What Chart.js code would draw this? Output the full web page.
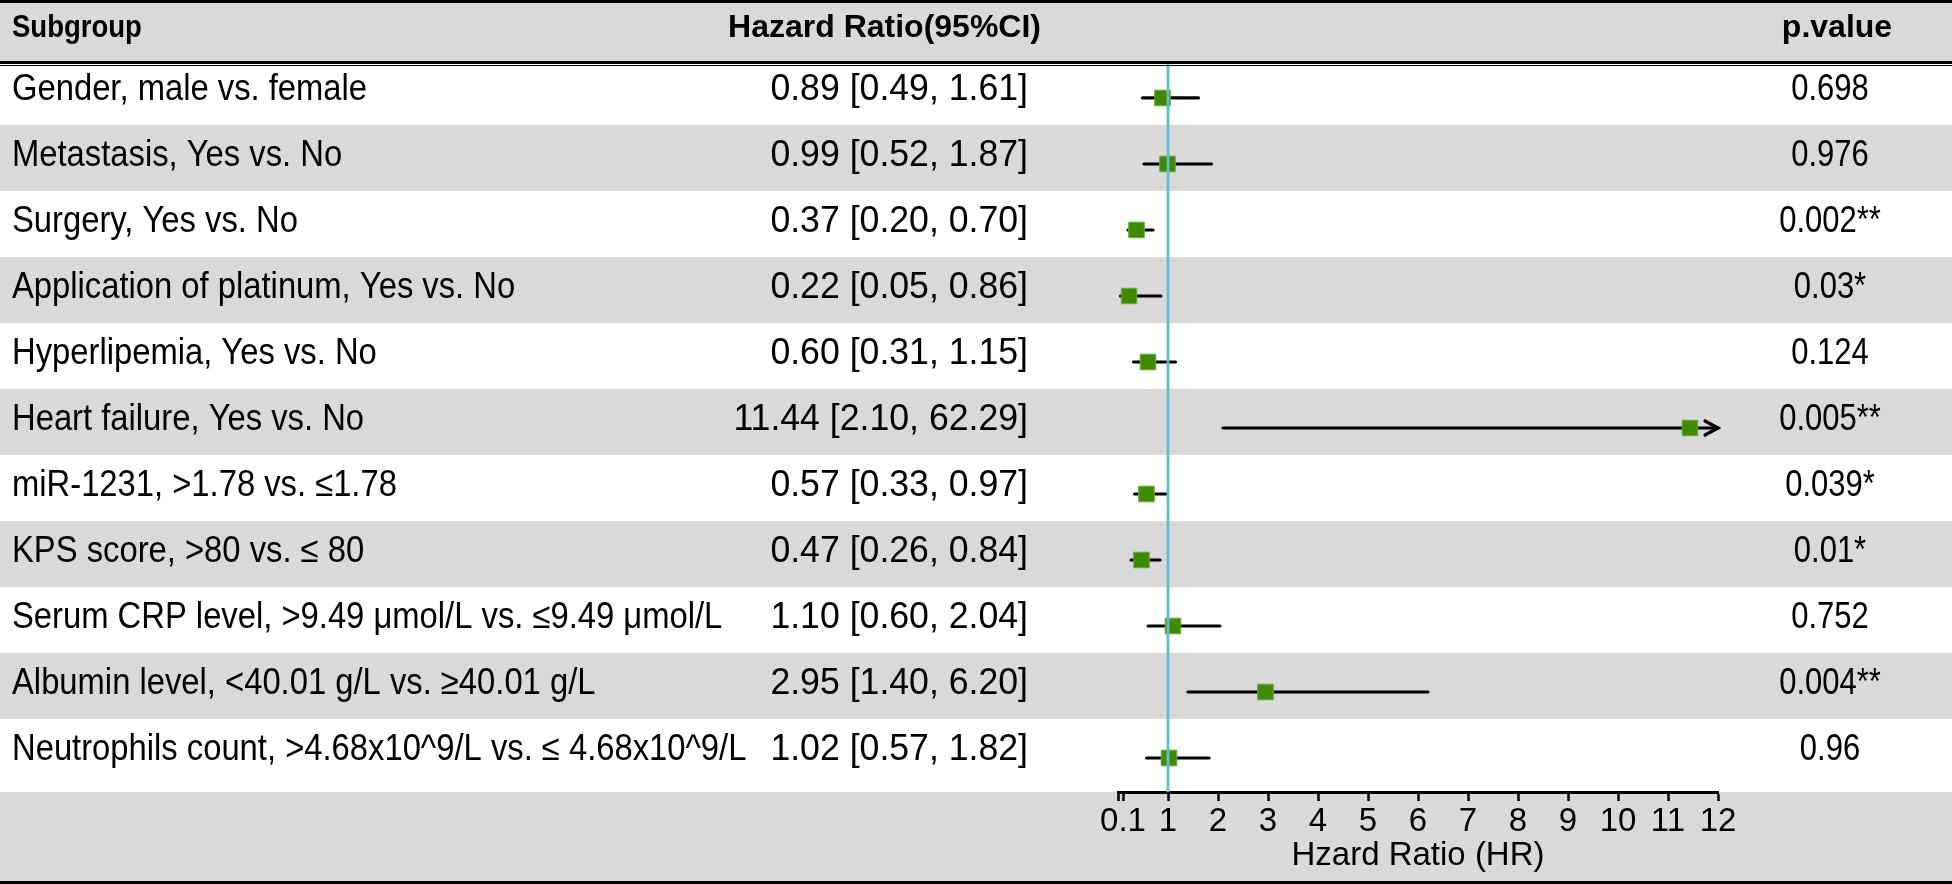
<!DOCTYPE html>
<html>
<head>
<meta charset="utf-8">
<script src="https://cdn.jsdelivr.net/npm/chart.js@4.4.0/dist/chart.umd.min.js"></script>
<style>
  html, body { margin: 0; padding: 0; background: #fff; }
</style>
</head>
<body>
<canvas id="forestChart" width="1952" height="884"></canvas>
<script>
const subgroups = [
  'Gender, male vs. female',
  'Metastasis, Yes vs. No',
  'Surgery, Yes vs. No',
  'Application of platinum, Yes vs. No',
  'Hyperlipemia, Yes vs. No',
  'Heart failure, Yes vs. No',
  'miR-1231, >1.78 vs. \u22641.78',
  'KPS score, >80 vs. \u2264 80',
  'Serum CRP level, >9.49 \u03bcmol/L vs. \u22649.49 \u03bcmol/L',
  'Albumin level, <40.01 g/L vs. \u226540.01 g/L',
  'Neutrophils count, >4.68x10^9/L vs. \u2264 4.68x10^9/L'
];
const hrValues = [0.89, 0.99, 0.37, 0.22, 0.60, 11.44, 0.57, 0.47, 1.10, 2.95, 1.02];
const ciLower  = [0.49, 0.52, 0.20, 0.05, 0.31, 2.10, 0.33, 0.26, 0.60, 1.40, 0.57];
const ciUpper  = [1.61, 1.87, 0.70, 0.86, 1.15, 62.29, 0.97, 0.84, 2.04, 6.20, 1.82];
const pValues  = ['0.698', '0.976', '0.002**', '0.03*', '0.124', '0.005**', '0.039*', '0.01*', '0.752', '0.004**', '0.96'];
const tickValues = [0, 0.1, 1, 2, 3, 4, 5, 6, 7, 8, 9, 10, 11, 12];
const headers = ['Subgroup', 'Hazard Ratio(95%CI)', 'p.value'];
const axisTitle = 'Hzard Ratio (HR)';

const FONT = "'Liberation Sans', Arial, Helvetica, sans-serif";
const GRAY = '#d9d9d9';

const hrText = hrValues.map((v, i) =>
  v.toFixed(2) + ' [' + ciLower[i].toFixed(2) + ', ' + ciUpper[i].toFixed(2) + ']');

// the original uses a narrow Helvetica, so squeeze the text a bit horizontally
function squeezeText(ctx, text, x, y, align, sx) {
  ctx.save();
  ctx.translate(x, y);
  ctx.scale(sx, 1);
  ctx.textAlign = align;
  ctx.fillText(text, 0, 0);
  ctx.restore();
}

// table stripes, text columns and CI whiskers
const forestTable = {
  id: 'forestTable',
  beforeDraw(chart) {
    const { ctx, chartArea } = chart;
    const y = chart.scales.y;
    const W = chart.width, H = chart.height;
    ctx.save();
    ctx.fillStyle = '#fff';
    ctx.fillRect(0, 0, W, H);
    ctx.fillStyle = GRAY;
    ctx.fillRect(0, 0, W, chartArea.top);
    ctx.fillRect(0, chartArea.bottom, W, H - chartArea.bottom);
    subgroups.forEach((s, i) => {
      if (i % 2 === 1) {
        const c = y.getPixelForValue(i) - 6;
        ctx.fillRect(0, c - 33, W, 66);
      }
    });
    ctx.restore();
  },
  beforeDatasetsDraw(chart) {
    const { ctx } = chart;
    const x = chart.scales.x, y = chart.scales.y;
    ctx.save();
    ctx.strokeStyle = '#000';
    ctx.lineWidth = 3.2;
    ctx.lineCap = 'round';
    hrValues.forEach((v, i) => {
      const yc = y.getPixelForValue(i);
      const x1 = x.getPixelForValue(Math.max(ciLower[i], x.min));
      const x2 = x.getPixelForValue(Math.min(ciUpper[i], x.max));
      ctx.beginPath();
      ctx.moveTo(x1, yc);
      ctx.lineTo(x2, yc);
      ctx.stroke();
      if (ciUpper[i] > x.max) {
        ctx.beginPath();
        ctx.moveTo(x2 - 13, yc - 7);
        ctx.lineTo(x2, yc);
        ctx.lineTo(x2 - 13, yc + 7);
        ctx.stroke();
      }
    });
    ctx.restore();
  },
  afterDraw(chart) {
    const { ctx } = chart;
    const y = chart.scales.y;
    const W = chart.width, H = chart.height;
    ctx.save();
    ctx.fillStyle = '#000';
    ctx.textBaseline = 'middle';

    ctx.font = 'bold 32px ' + FONT;
    squeezeText(ctx, headers[0], 12, 28, 'left', 0.86);
    squeezeText(ctx, headers[1], 1041, 28, 'right', 1.0);
    squeezeText(ctx, headers[2], 1837, 28, 'center', 1.0);

    ctx.font = '36px ' + FONT;
    subgroups.forEach((s, i) => {
      const ty = y.getPixelForValue(i) - 8;
      squeezeText(ctx, s, 12, ty, 'left', 0.91);
      squeezeText(ctx, hrText[i], 1028, ty, 'right', 0.99);
      squeezeText(ctx, pValues[i], 1830, ty, 'center', 0.86);
    });

    // table rules
    ctx.fillRect(0, 0, W, 3);
    ctx.fillRect(0, 61, W, 3);
    ctx.fillRect(0, 65, W, 1);
    ctx.fillRect(0, H - 3, W, 3);
    ctx.restore();
  }
};

const ctx = document.getElementById('forestChart').getContext('2d');
const chart = new Chart(ctx, {
  type: 'scatter',
  data: {
    datasets: [
      {
        label: 'reference',
        type: 'line',
        data: [{ x: 1, y: -0.545 }, { x: 1, y: 10.515 }],
        borderColor: '#5ec0cc',
        borderWidth: 2.8,
        pointRadius: 0,
        order: 0
      },
      {
        label: 'Hazard Ratio',
        data: hrValues.map((v, i) => ({ x: v, y: i })),
        pointStyle: 'rect',
        pointRadius: 11,
        backgroundColor: '#3f8a03',
        borderColor: '#6aaa3c',
        borderWidth: 1,
        order: 1
      }
    ]
  },
  options: {
    responsive: false,
    animation: false,
    devicePixelRatio: 1,
    layout: { padding: { left: 1118, right: 234, top: 62, bottom: 0 } },
    plugins: {
      legend: { display: false },
      tooltip: { enabled: false }
    },
    scales: {
      x: {
        type: 'linear',
        min: 0,
        max: 12,
        afterBuildTicks: (s) => { s.ticks = tickValues.map(v => ({ value: v })); },
        afterFit: (s) => { s.height = 92; },
        border: { display: true, color: '#000', width: 3 },
        grid: { display: true, drawOnChartArea: false, drawTicks: true, tickLength: 9, tickWidth: 2.5, tickColor: '#000' },
        ticks: {
          color: '#000',
          autoSkip: false,
          maxRotation: 0,
          padding: 4,
          font: { family: FONT, size: 33, lineHeight: 1 },
          callback: (v) => (v === 0 ? '' : String(v))
        },
        title: {
          display: true,
          text: axisTitle,
          color: '#000',
          font: { family: FONT, size: 33, lineHeight: 1 },
          padding: { top: 0, bottom: 12 }
        }
      },
      y: {
        type: 'linear',
        reverse: true,
        min: -0.545,
        max: 10.515,
        display: false
      }
    }
  },
  plugins: [forestTable]
});
</script>
</body>
</html>
